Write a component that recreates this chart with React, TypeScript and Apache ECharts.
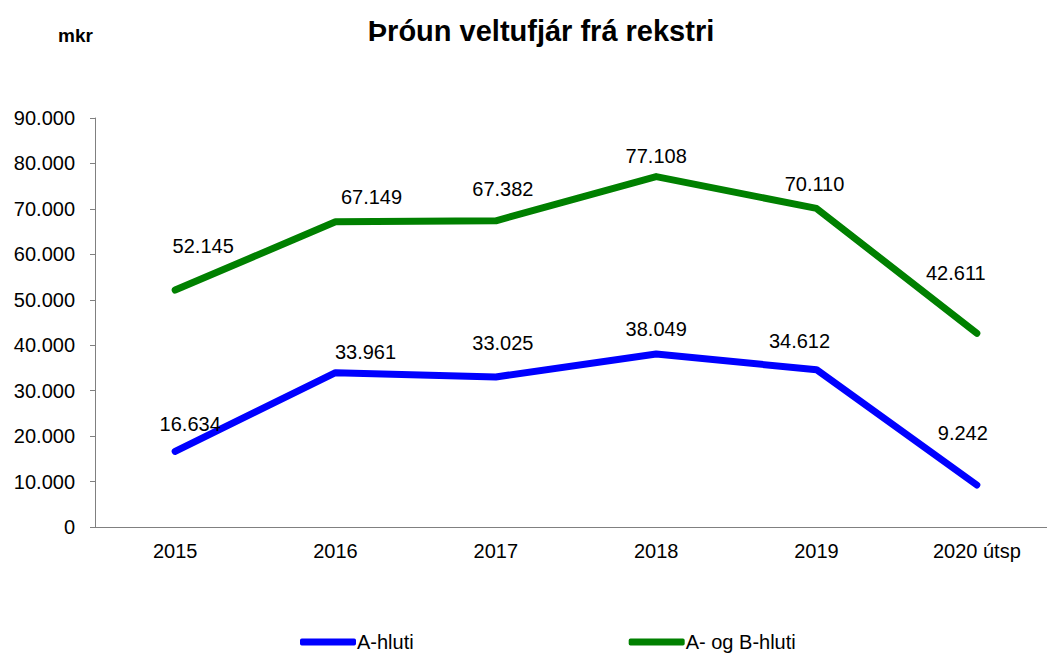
import React, { useEffect, useRef } from "react";
import * as echarts from "echarts";

const categories = ["2015", "2016", "2017", "2018", "2019", "2020 útsp"];
const aHluti = [16634, 33961, 33025, 38049, 34612, 9242];
const abHluti = [52145, 67149, 67382, 77108, 70110, 42611];
const yTicks = { min: 0, max: 90000, interval: 10000 };

// label placement (style), separate from data
const aLabelOffsets = [[15, -27], [30, -21], [7, -34], [0, -25], [-17, -29], [-14, -52]];
const abLabelOffsets = [[28, -44], [36, -25], [7, -32], [0, -21], [-2, -24], [-21, -60]];

const fmt = (v: number) => {
  const s = Math.round(v).toString();
  return s.replace(/\B(?=(\d{3})+(?!\d))/g, ".");
};

const FONT = "Liberation Sans, Arial, sans-serif";

export default function App() {
  const ref = useRef<HTMLDivElement>(null);
  useEffect(() => {
    const chart = echarts.init(ref.current!, undefined, { renderer: "svg" });
    const mk = (vals: number[], offs: number[][]) =>
      vals.map((v, i) => ({
        value: v,
        label: { offset: offs[i] },
      }));
    chart.setOption({
      animation: false,
      backgroundColor: "#fff",
      title: [
        {
          text: "Þróun veltufjár frá rekstri",
          left: 536,
          top: 11,
          textAlign: "center",
          textStyle: { fontFamily: FONT, fontWeight: "bold", fontSize: 29, color: "#000" },
        },
        {
          text: "mkr",
          left: 53,
          top: 21,
          textStyle: { fontFamily: FONT, fontWeight: "bold", fontSize: 19, color: "#000" },
        },
      ],
      legend: {
        bottom: 1,
        left: 300,
        padding: 0,
        itemGap: 215,
        itemWidth: 56,
        itemHeight: 7,
        icon: "roundRect",
        textStyle: { fontFamily: FONT, fontSize: 20, color: "#000", padding: [0, 0, 0, -4] },
        data: ["A-hluti", "A- og B-hluti"],
      },
      grid: {
        left: 95,
        top: 118,
        bottom: 126,
        width: 962,
        containLabel: false,
        outerBoundsMode: "none",
      },
      xAxis: {
        type: "category",
        data: categories,
        boundaryGap: true,
        axisLine: { lineStyle: { color: "#808080", width: 1 } },
        axisTick: { alignWithLabel: false, length: 6, lineStyle: { color: "#808080" } },
        axisLabel: { fontFamily: FONT, fontSize: 20, color: "#000", margin: 14 },
      },
      yAxis: {
        type: "value",
        min: yTicks.min,
        max: yTicks.max,
        interval: yTicks.interval,
        axisLine: { show: true, lineStyle: { color: "#808080", width: 1 } },
        axisTick: { show: true, length: 5, lineStyle: { color: "#808080" } },
        splitLine: { show: false },
        axisLabel: {
          fontFamily: FONT,
          fontSize: 20,
          color: "#000",
          margin: 20,
          formatter: (v: number) => fmt(v),
        },
      },
      series: [
        {
          name: "A-hluti",
          type: "line",
          data: mk(aHluti, aLabelOffsets),
          color: "#0000FF",
          symbol: "circle",
          symbolSize: 0.1,
          lineStyle: { width: 7, cap: "round", join: "round", color: "#0000FF" },
          label: {
            show: true,
            position: "inside",
            align: "center",
            verticalAlign: "middle",
            fontFamily: FONT,
            fontSize: 20,
            color: "#000",
            formatter: (p: any) => fmt(p.value),
          },
        },
        {
          name: "A- og B-hluti",
          type: "line",
          data: mk(abHluti, abLabelOffsets),
          color: "#008000",
          symbol: "circle",
          symbolSize: 0.1,
          lineStyle: { width: 7, cap: "round", join: "round", color: "#008000" },
          label: {
            show: true,
            position: "inside",
            align: "center",
            verticalAlign: "middle",
            fontFamily: FONT,
            fontSize: 20,
            color: "#000",
            formatter: (p: any) => fmt(p.value),
          },
        },
      ],
    });
    return () => chart.dispose();
  }, []);
  return (
    <div
      ref={ref}
      style={{ position: "absolute", left: 0, top: 0, width: 1047, height: 653 }}
    />
  );
}
